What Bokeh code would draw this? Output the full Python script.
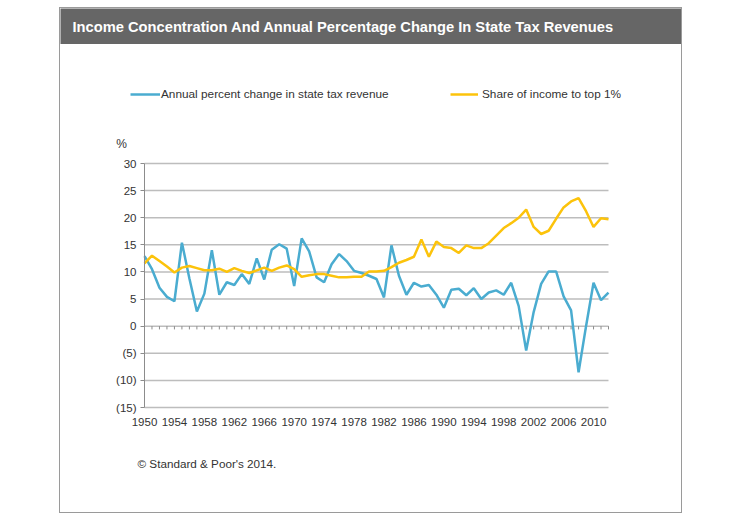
from bokeh.plotting import figure
from bokeh.models import Range1d, FixedTicker, Label, Legend, LegendItem
from bokeh.layouts import column
from bokeh.embed import file_html
from bokeh.resources import INLINE

# ---------------- data ----------------
years = list(range(1950, 2013))

tax_change = [12.9, 10.5, 7.1, 5.4, 4.6, 15.4, 8.8, 2.7, 6.0, 14.0,
              5.8, 8.1, 7.6, 9.6, 7.8, 12.5, 8.6, 14.1, 15.1, 14.3,
              7.4, 16.2, 13.8, 9.0, 8.1, 11.4, 13.3, 12.0, 10.2, 9.8,
              9.3, 8.7, 5.3, 14.9, 9.3, 5.8, 8.0, 7.3, 7.6, 5.8,
              3.4, 6.7, 6.9, 5.7, 7.0, 5.0, 6.2, 6.6, 5.8, 8.0,
              3.7, -4.5, 2.6, 7.8, 10.1, 10.1, 5.5, 2.9, -8.5, 0.0,
              8.0, 4.8, 6.2]

top1_share = [11.6, 13.0, 12.0, 11.0, 9.9, 10.8, 11.1, 10.7, 10.3, 10.3,
              10.6, 10.0, 10.7, 10.2, 9.8, 10.3, 10.8, 10.2, 10.8, 11.2,
              10.5, 9.1, 9.4, 9.6, 9.6, 9.3, 9.0, 9.0, 9.1, 9.1,
              10.1, 10.1, 10.2, 10.9, 11.7, 12.2, 12.8, 16.0, 12.8, 15.6,
              14.6, 14.4, 13.5, 14.9, 14.4, 14.4, 15.3, 16.7, 18.1, 19.0,
              20.0, 21.5, 18.3, 17.0, 17.6, 19.8, 21.9, 23.0, 23.6, 21.2,
              18.3, 19.9, 19.7]

x_tick_years = list(range(1950, 2011, 4))
y_ticks = [-15, -10, -5, 0, 5, 10, 15, 20, 25, 30]
y_tick_labels = {-15: "(15)", -10: "(10)", -5: "(5)"}

title_text = "Income Concentration And Annual Percentage Change In State Tax Revenues"
series_names = ["Annual percent change in state tax revenue", "Share of income to top 1%"]
y_unit = "%"
source_note = "\u00a9 Standard & Poor's 2014."

# ---------------- styles / layout ----------------
FONT = "Liberation Sans"
BLUE = "#4aacd0"
GOLD = "#fcc30b"
GRID = "#bdbdbd"
AXIS = "#8c8c8c"
TEXT = "#333333"

W = 621
TITLE_H = 36
MAIN_H = 468
# plot-area placement inside the main canvas (pixels)
PAD_L, PAD_R, PAD_T, PAD_B = 84, 73, 119, 105

x0, x1 = years[0], years[-1]
y0, y1 = y_ticks[0], y_ticks[-1]
xpp = (x1 - x0) / (W - PAD_L - PAD_R)
ypp = (y1 - y0) / (MAIN_H - PAD_T - PAD_B)

# ---------------- title bar ----------------
tf = figure(width=W, height=TITLE_H, x_range=Range1d(0, 1), y_range=Range1d(0, 1),
            x_axis_type=None, y_axis_type=None, output_backend="svg",
            toolbar_location=None, min_border=0)
tf.background_fill_color = "#666666"
tf.border_fill_color = "#666666"
tf.outline_line_color = None
tf.add_layout(Label(x=12, y=18, x_units="screen", y_units="screen", text=title_text,
                    text_color="white", text_font=FONT, text_font_size="14.7px",
                    text_font_style="bold", text_baseline="middle"))

# ---------------- main chart ----------------
p = figure(width=W, height=MAIN_H,
           x_range=Range1d(x0 - PAD_L * xpp, x1 + PAD_R * xpp),
           y_range=Range1d(y0 - PAD_B * ypp, y1 + PAD_T * ypp),
           output_backend="svg", toolbar_location=None, min_border=0)
p.outline_line_color = None
p.background_fill_color = "white"
p.border_fill_color = "white"
p.grid.visible = False

# horizontal gridlines across the plot area, one per y tick
p.segment(x0=[x0] * len(y_ticks), x1=[x1] * len(y_ticks), y0=y_ticks, y1=y_ticks,
          line_color=GRID, line_width=1.5)

# category tick marks hanging below the zero line
p.segment(x0=years, y0=[0] * len(years), x1=years, y1=[-0.6] * len(years),
          line_color=AXIS, line_width=1)

r1 = p.line(years, tax_change, line_color=BLUE, line_width=2.5)
r2 = p.line(years, top1_share, line_color=GOLD, line_width=2.5)

p.yaxis.fixed_location = x0
p.yaxis.bounds = (y0, y1)
p.yaxis.ticker = FixedTicker(ticks=y_ticks)
p.yaxis.major_label_overrides = y_tick_labels
p.yaxis.axis_line_color = AXIS
p.yaxis.major_tick_line_color = AXIS
p.yaxis.major_tick_out = 4
p.yaxis.major_tick_in = 0
p.yaxis.minor_tick_line_color = None
p.yaxis.major_label_standoff = 4
p.yaxis.major_label_text_font = FONT
p.yaxis.major_label_text_font_size = "11.5px"
p.yaxis.major_label_text_color = TEXT

p.xaxis.fixed_location = y0
p.xaxis.bounds = (x0, x1)
p.xaxis.ticker = FixedTicker(ticks=x_tick_years)
p.xaxis.axis_line_color = None
p.xaxis.major_tick_line_color = None
p.xaxis.minor_tick_line_color = None
p.xaxis.major_tick_out = 0
p.xaxis.major_tick_in = 0
p.xaxis.major_label_standoff = 10
p.xaxis.major_label_text_font = FONT
p.xaxis.major_label_text_font_size = "11.5px"
p.xaxis.major_label_text_color = TEXT

for name, rend, lx, gw, so in [(series_names[0], r1, 70, 30, 1),
                               (series_names[1], r2, 390, 28, 4)]:
    lg = Legend(items=[LegendItem(label=name, renderers=[rend])], location=(lx, 408),
                orientation="horizontal", glyph_width=gw, glyph_height=20, label_height=20,
                label_standoff=so, padding=0, margin=0, border_line_color=None,
                background_fill_alpha=0, label_text_font=FONT, label_text_font_size="11.8px",
                label_text_color=TEXT)
    p.add_layout(lg)

p.add_layout(Label(x=61, y=369, x_units="screen", y_units="screen", text=y_unit,
                   text_font=FONT, text_font_size="12px", text_color=TEXT,
                   text_align="center", text_baseline="middle"))
p.add_layout(Label(x=77, y=49, x_units="screen", y_units="screen", text=source_note,
                   text_font=FONT, text_font_size="11.7px", text_color=TEXT,
                   text_baseline="middle"))

layout = column(tf, p, spacing=0, margin=(7, 0, 0, 59),
                styles={"border": "1px solid #9a9a9a"})

open("out.html", "w").write(file_html(layout, INLINE))
